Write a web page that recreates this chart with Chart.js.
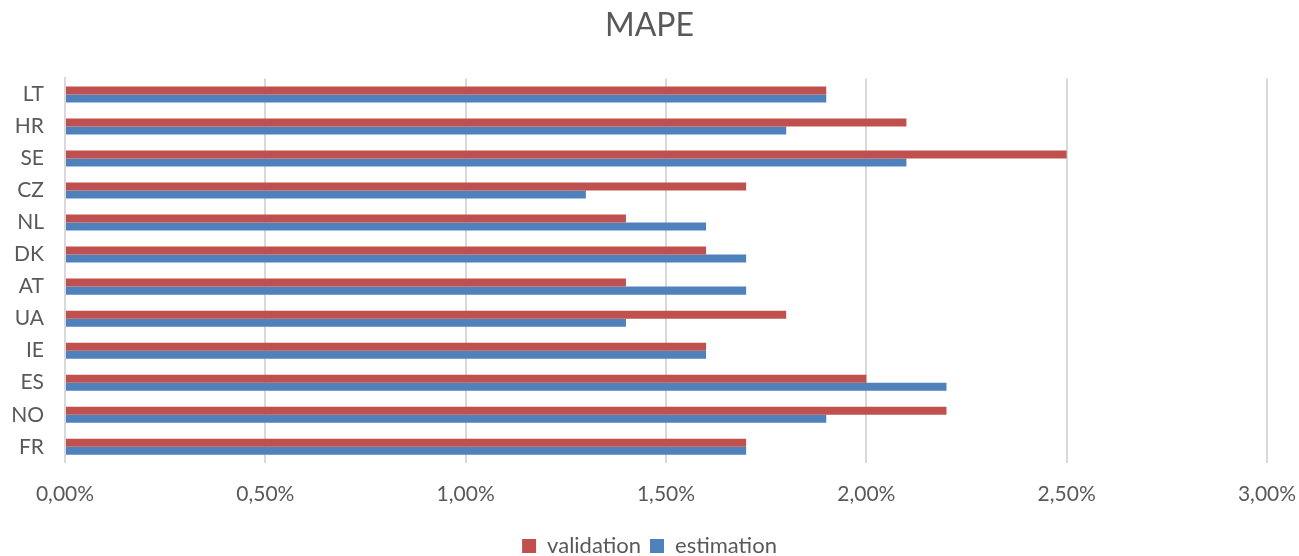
<!DOCTYPE html>
<html>
<head>
<meta charset="utf-8">
<script src="https://cdn.jsdelivr.net/npm/chart.js@4"></script>
<style>
  html, body { margin: 0; padding: 0; background: #fff; }
  #wrap { width: 1299px; height: 556px; }
</style>
</head>
<body>
<div id="wrap"><canvas id="mapeChart"></canvas></div>
<script>
// countries, top to bottom
const countries = ['LT', 'HR', 'SE', 'CZ', 'NL', 'DK', 'AT', 'UA', 'IE', 'ES', 'NO', 'FR'];
// MAPE values as fractions (0.019 = 1,90%)
const validation = [0.019, 0.021, 0.025, 0.017, 0.014, 0.016, 0.014, 0.018, 0.016, 0.020, 0.022, 0.017];
const estimation = [0.019, 0.018, 0.021, 0.013, 0.016, 0.017, 0.017, 0.014, 0.016, 0.022, 0.019, 0.017];
const xTicks = [0, 0.005, 0.01, 0.015, 0.02, 0.025, 0.03];

const fontFamily = 'Lato, "Open Sans", sans-serif';
const textColor = '#595959';

// Excel style percent with comma decimal
function pct(v) {
  return (v * 100).toFixed(2).replace('.', ',') + '%';
}

const ctx = document.getElementById('mapeChart');

new Chart(ctx, {
  type: 'bar',
  data: {
    labels: countries,
    datasets: [
      {
        label: 'validation',
        data: validation,
        backgroundColor: '#C0504D',
        categoryPercentage: 0.5,
        barPercentage: 1,
      },
      {
        label: 'estimation',
        data: estimation,
        backgroundColor: '#4F81BD',
        categoryPercentage: 0.5,
        barPercentage: 1,
      },
    ],
  },
  options: {
    indexAxis: 'y',
    responsive: true,
    maintainAspectRatio: false,
    animation: false,
    layout: {
      // negative bottom pushes the legend closer to the edge like the original
      padding: { left: 0, right: 0, top: 6, bottom: -11 },
    },
    scales: {
      x: {
        min: 0,
        max: 0.03,
        afterBuildTicks: (axis) => {
          axis.ticks = xTicks.map((v) => ({ value: v }));
        },
        afterFit: (axis) => {
          axis.paddingRight = 32; // just enough room for the 3,00% label
        },
        ticks: {
          callback: (v) => pct(v),
          color: textColor,
          font: { family: fontFamily, size: 21 },
          padding: 19,
          maxRotation: 0,
        },
        grid: {
          color: '#D9D9D9',
          lineWidth: 2,
          drawTicks: false,
        },
        border: { display: false },
      },
      y: {
        afterFit: (axis) => {
          axis.width = 65;
        },
        ticks: {
          color: textColor,
          font: { family: fontFamily, size: 21 },
          padding: 21,
        },
        grid: { display: false, drawTicks: false },
        border: { color: '#D9D9D9', width: 2 },
      },
    },
    plugins: {
      title: {
        display: true,
        text: 'MAPE',
        color: textColor,
        font: { family: fontFamily, size: 32, weight: 'normal' },
        padding: { top: 0, bottom: 34 },
      },
      legend: {
        position: 'bottom',
        labels: {
          color: textColor,
          font: { family: fontFamily, size: 22 },
          boxWidth: 14,
          boxHeight: 14,
          padding: 9,
        },
      },
      tooltip: { enabled: false },
    },
  },
});
</script>
</body>
</html>
